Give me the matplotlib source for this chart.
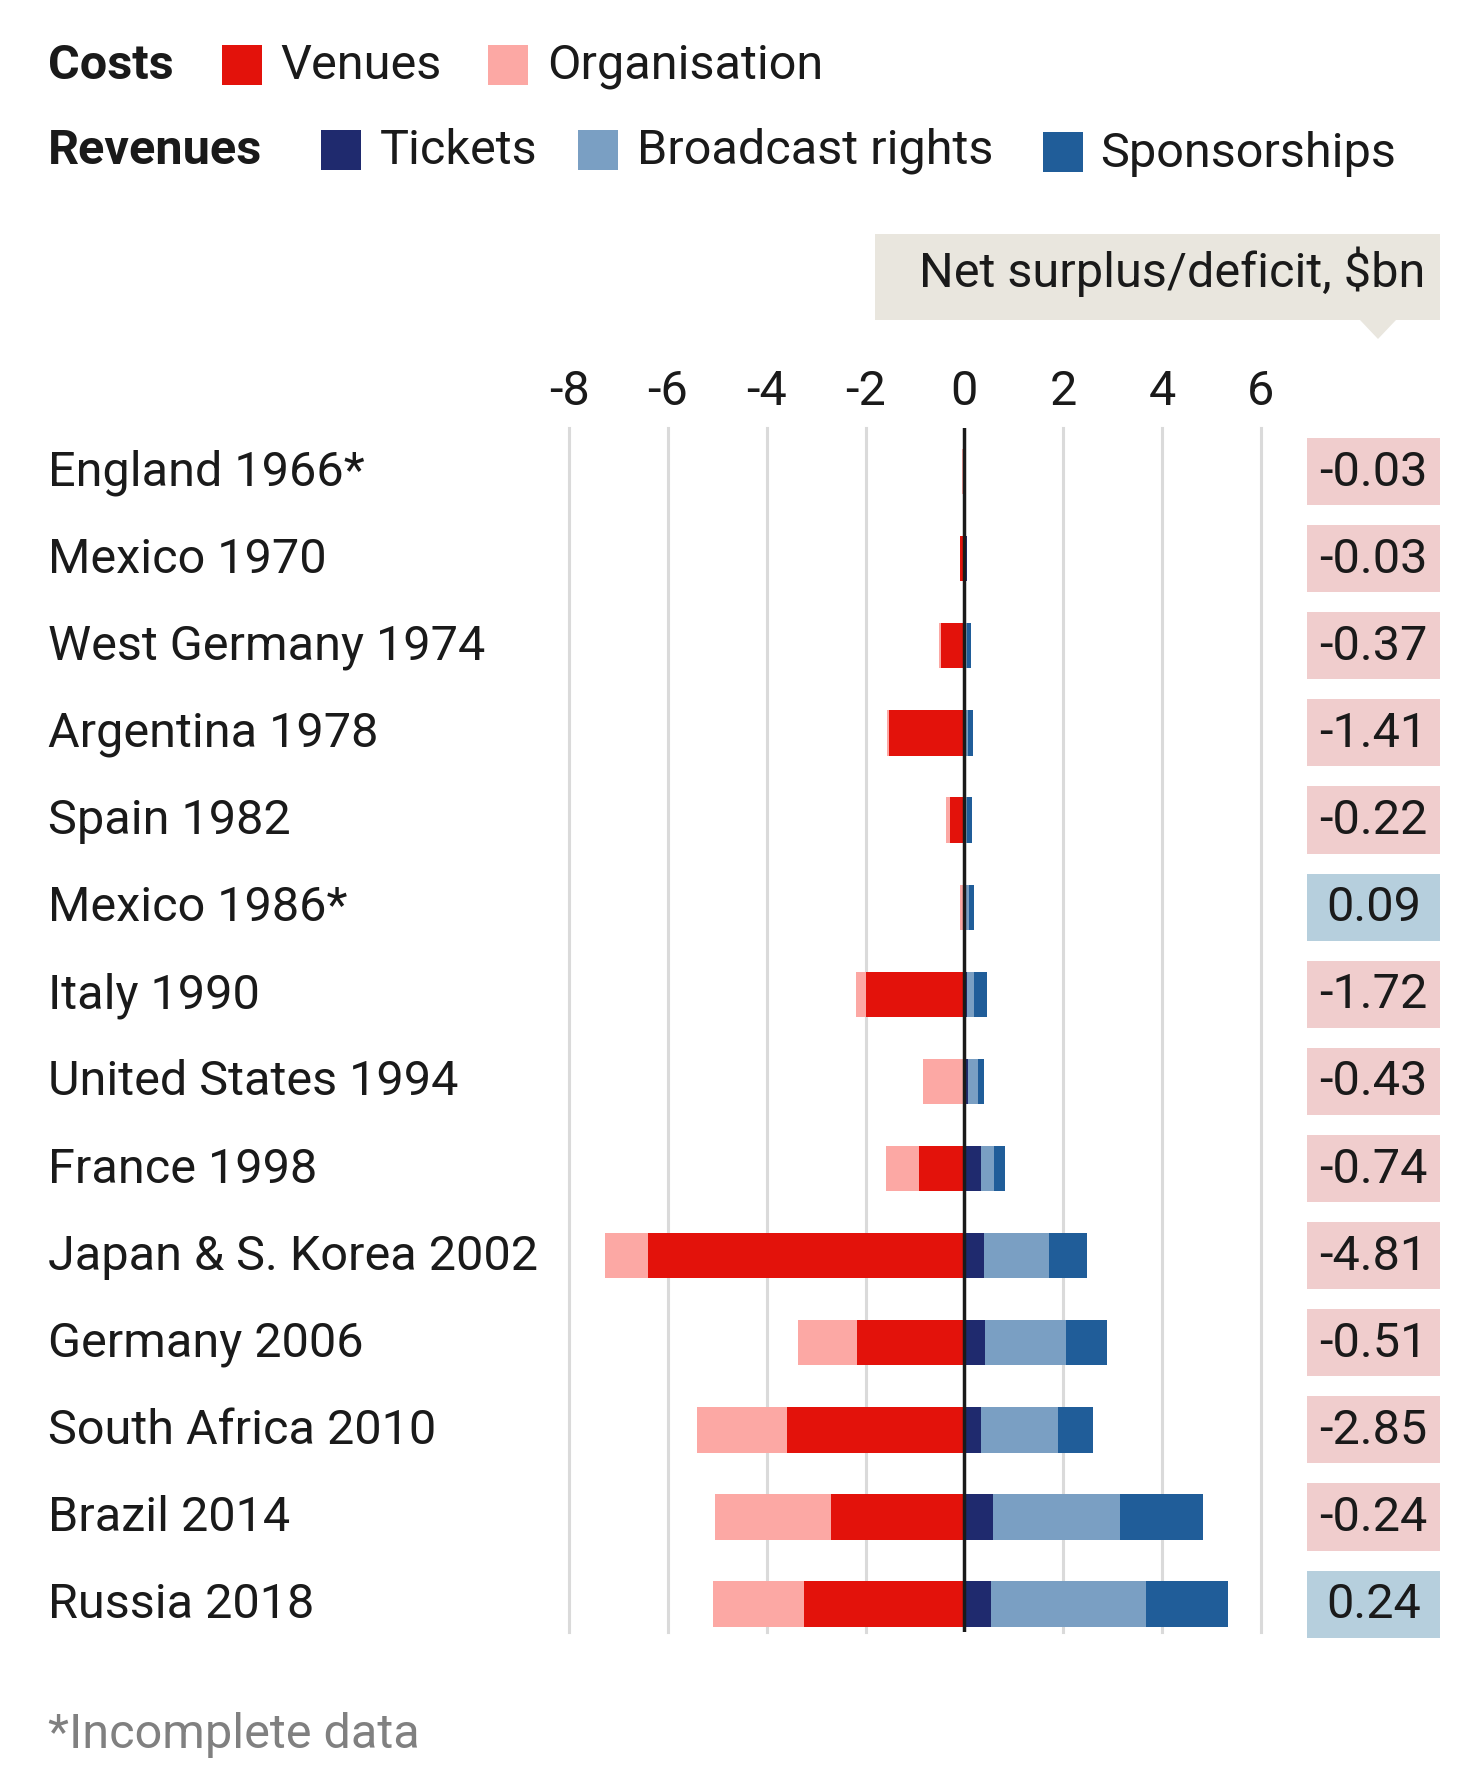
import numpy as np
import matplotlib
matplotlib.use('Agg')
import matplotlib.pyplot as plt
from matplotlib import font_manager
from matplotlib.patches import Rectangle, Polygon
from matplotlib.transforms import blended_transform_factory

# Dados (bilhões de US$)
paises = ['England 1966*', 'Mexico 1970', 'West Germany 1974', 'Argentina 1978',
          'Spain 1982', 'Mexico 1986*', 'Italy 1990', 'United States 1994',
          'France 1998', 'Japan & S. Korea 2002', 'Germany 2006',
          'South Africa 2010', 'Brazil 2014', 'Russia 2018']
venues = [0.00, 0.08, 0.47, 1.52, 0.30, 0.01, 1.99, 0.00, 0.92, 6.40, 2.18, 3.59, 2.69, 3.25]
organisation = [0.05, 0.01, 0.04, 0.04, 0.08, 0.08, 0.20, 0.84, 0.66, 0.88, 1.19, 1.83, 2.35, 1.83]
tickets = [0.02, 0.06, 0.02, 0.02, 0.02, 0.03, 0.05, 0.07, 0.34, 0.39, 0.41, 0.34, 0.57, 0.54]
broadcast = [0.00, 0.00, 0.04, 0.05, 0.04, 0.06, 0.15, 0.21, 0.25, 1.33, 1.65, 1.55, 2.57, 3.14]
sponsorships = [0.00, 0.00, 0.08, 0.10, 0.10, 0.10, 0.25, 0.12, 0.23, 0.75, 0.83, 0.71, 1.68, 1.66]
saldo = [-0.03, -0.03, -0.37, -1.41, -0.22, 0.09, -1.72, -0.43, -0.74, -4.81,
         -0.51, -2.85, -0.24, 0.24]
ticks_x = [-8, -6, -4, -2, 0, 2, 4, 6]

# Cores
c_venues = '#e3120b'
c_org = '#fca8a4'
c_tickets = '#1f2a6e'
c_broad = '#7a9fc3'
c_spons = '#205d99'
c_neg = '#f0cdcd'
c_pos = '#b6cfdd'

# Fonte (tenta uma condensada)
nomes = {f.name for f in font_manager.fontManager.ttflist}
fonte = 'Liberation Sans Narrow' if 'Liberation Sans Narrow' in nomes else 'Roboto'
plt.rcParams['font.family'] = [fonte, 'DejaVu Sans']

W, H = 1474, 1774
fig = plt.figure(figsize=(W / 100, H / 100), dpi=100)
fig.patch.set_facecolor('white')

# Eixo principal: x de -8 a 6, y de 429 a 1633 px
x0, x1 = 569, 1261
y_top, y_bot = 429, 1633
ax = fig.add_axes([x0 / W, 1 - y_bot / H, (x1 - x0) / W, (y_bot - y_top) / H])
ax.set_xlim(-8, 6)
ax.set_ylim(13.32, -0.5)
ax.axis('off')

fs = 35
preto = '#1a1a1a'

# Grade vertical
for t in ticks_x:
    if t != 0:
        ax.axvline(t, color='#dadada', linewidth=2.2, zorder=0, clip_on=False)
    ax.text(t, -0.66, str(t), ha='center', va='bottom', fontsize=fs,
            color=preto, clip_on=False)

y = np.arange(len(paises))
h = 0.52
v = np.array(venues)
o = np.array(organisation)
tk = np.array(tickets)
br = np.array(broadcast)
sp = np.array(sponsorships)

# Custos (para a esquerda)
ax.barh(y, -v, height=h, color=c_venues, zorder=2)
ax.barh(y, -o, left=-v, height=h, color=c_org, zorder=2)
# Receitas (para a direita)
ax.barh(y, tk, height=h, color=c_tickets, zorder=2)
ax.barh(y, br, left=tk, height=h, color=c_broad, zorder=2)
ax.barh(y, sp, left=tk + br, height=h, color=c_spons, zorder=2)

ax.axvline(0, color=preto, linewidth=2.5, zorder=3)

# Rótulos dos países e caixas de saldo
trans = blended_transform_factory(fig.transFigure, ax.transData)
for i, nome in enumerate(paises):
    ax.text(48 / W, i, nome, transform=trans, ha='left', va='center',
            fontsize=fs, color=preto, clip_on=False)
    cor = c_pos if saldo[i] > 0 else c_neg
    ax.add_patch(Rectangle((1307 / W, i - 0.385), 133 / W, 0.77, transform=trans,
                           facecolor=cor, edgecolor='none', clip_on=False))
    ax.text(1373.5 / W, i, f'{saldo[i]:.2f}', transform=trans, ha='center',
            va='center', fontsize=fs, color=preto, clip_on=False)

# Caixa do título do saldo
fig.patches.append(Rectangle((875 / W, 1 - 321 / H), 565 / W, 86 / H,
                             transform=fig.transFigure, facecolor='#e9e6de',
                             edgecolor='none'))
fig.patches.append(Polygon([(1360 / W, 1 - 321 / H), (1396 / W, 1 - 321 / H),
                            (1378 / W, 1 - 340 / H)], closed=True,
                           transform=fig.transFigure, facecolor='#e9e6de',
                           edgecolor='none'))
fig.text(1425 / W, 1 - 272 / H, 'Net surplus/deficit, $bn', ha='right', va='center',
         fontsize=fs, color=preto)

# Legenda manual
def quadrado(x, yc, cor):
    fig.patches.append(Rectangle((x / W, 1 - (yc + 20) / H), 40 / W, 40 / H,
                                 transform=fig.transFigure, facecolor=cor,
                                 edgecolor='none'))

fig.text(48 / W, 1 - 66 / H, 'Costs', ha='left', va='center', fontsize=fs,
         fontweight='bold', color=preto)
quadrado(222, 66, c_venues)
fig.text(280 / W, 1 - 66 / H, 'Venues', ha='left', va='center', fontsize=fs, color=preto)
quadrado(488, 66, c_org)
fig.text(547 / W, 1 - 66 / H, 'Organisation', ha='left', va='center', fontsize=fs, color=preto)

fig.text(48 / W, 1 - 151 / H, 'Revenues', ha='left', va='center', fontsize=fs,
         fontweight='bold', color=preto)
quadrado(321, 151, c_tickets)
fig.text(380 / W, 1 - 151 / H, 'Tickets', ha='left', va='center', fontsize=fs, color=preto)
quadrado(578, 151, c_broad)
fig.text(637 / W, 1 - 151 / H, 'Broadcast rights', ha='left', va='center', fontsize=fs, color=preto)
quadrado(1043, 153, c_spons)
fig.text(1100 / W, 1 - 154 / H, 'Sponsorships', ha='left', va='center', fontsize=fs, color=preto)

# Nota de rodapé
fig.text(48 / W, 1 - 1735 / H, '*Incomplete data', ha='left', va='center',
         fontsize=fs, color='#808080')

fig.savefig('out.png', dpi=100, facecolor='white')
